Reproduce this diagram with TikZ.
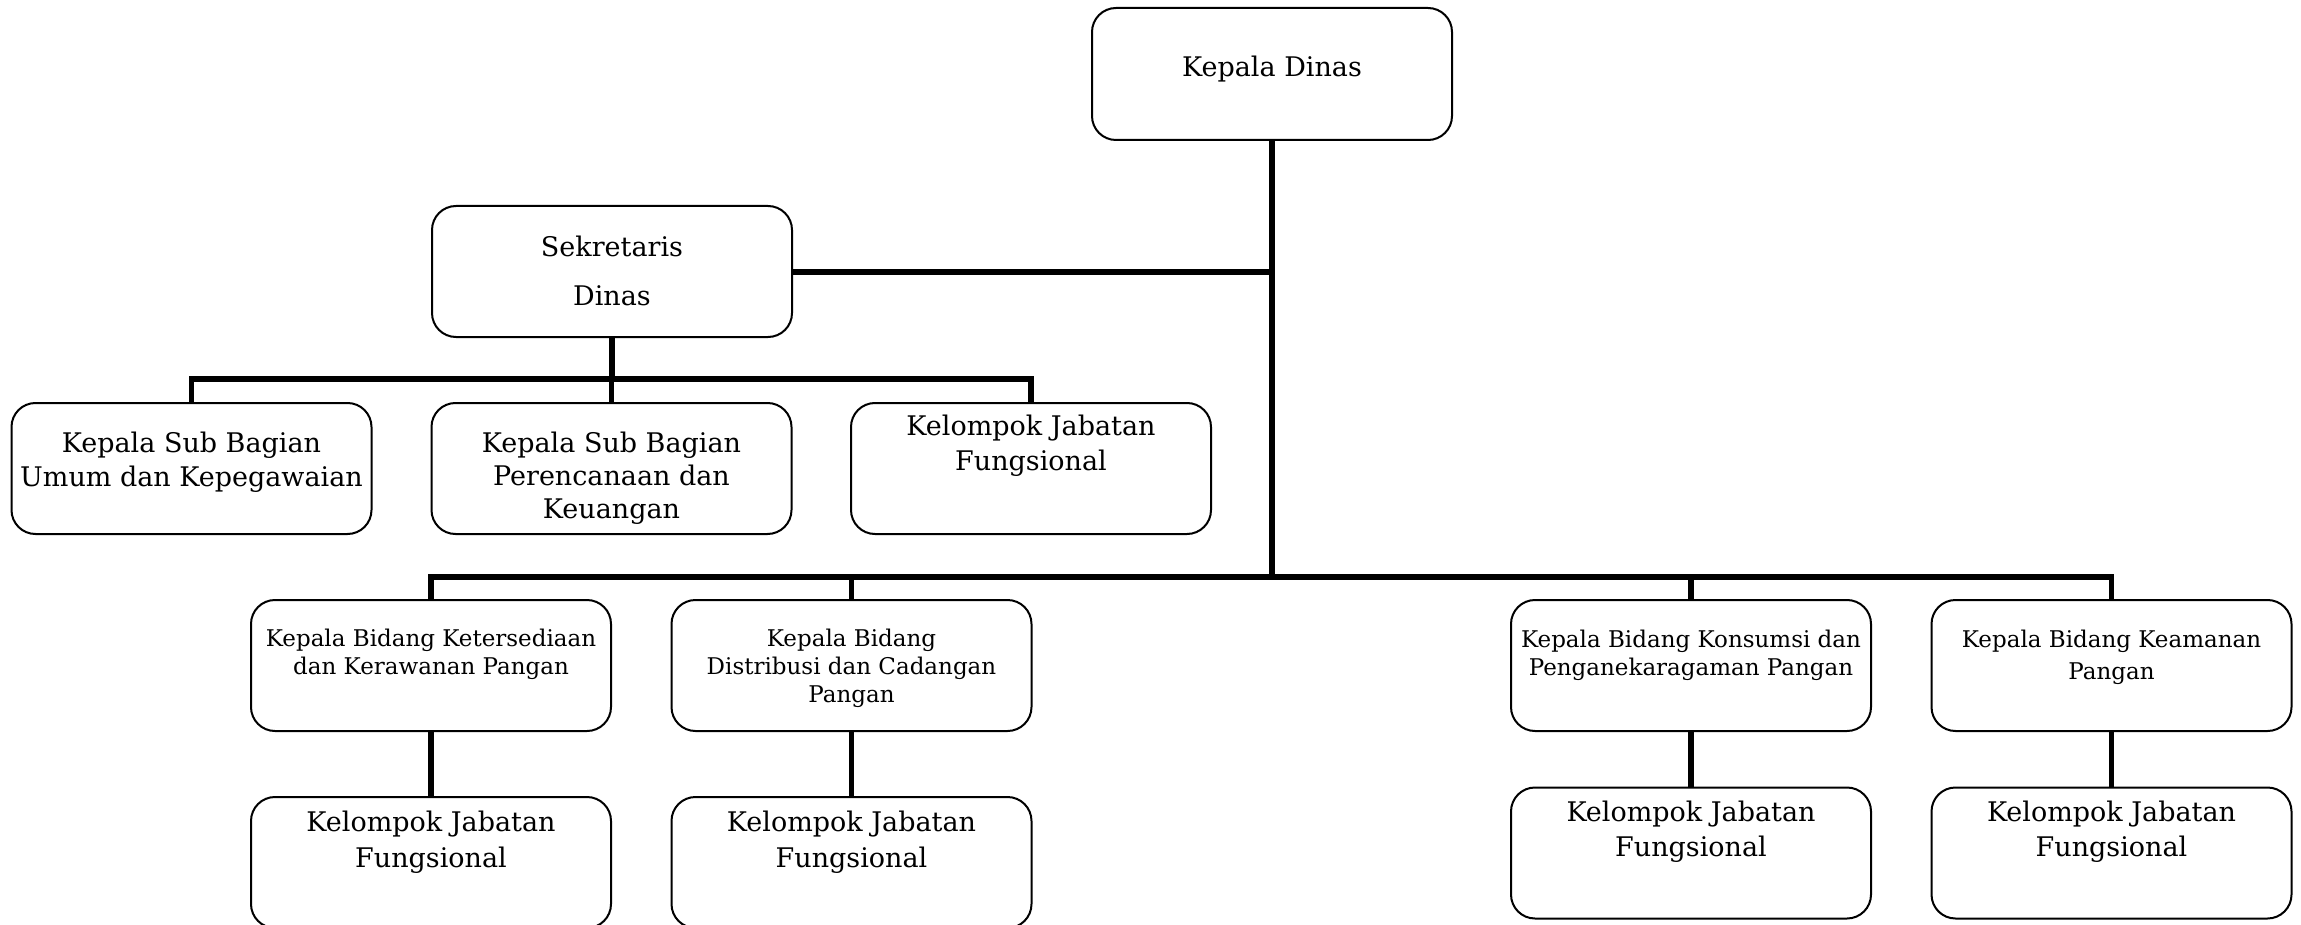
\documentclass[tikz,border=0pt]{standalone}
\usepackage{fontspec}
\setmainfont{DejaVu Serif}
\begin{document}
\begin{tikzpicture}[x=1pt,y=-1pt,
  box/.style={draw=black,line width=2pt,rounded corners=24pt,minimum width=#1,minimum height=131pt,inner sep=0pt,anchor=center},
  box/.default=360pt,
  big/.style={font=\fontsize{27}{34}\selectfont,align=center,inner sep=0pt},
  small/.style={font=\fontsize{23}{28}\selectfont,align=center,inner sep=0pt},
  conn/.style={line width=5.5pt,line join=miter,line cap=butt}]
\useasboundingbox (0,0) rectangle (2301,925);
\clip (0,0) rectangle (2301,925);
% boxes
\node[box,minimum height=132pt] (kd) at (1272,74) {};
\node[box] (sek) at (612,271.5) {};
\node[box] (r2a) at (191.5,468.5) {};
\node[box] (r2b) at (611.5,468.5) {};
\node[box] (r2c) at (1031,468.5) {};
\node[box] (r3a) at (431,665.5) {};
\node[box] (r3b) at (851.5,665.5) {};
\node[box] (r3c) at (1691,665.5) {};
\node[box] (r3d) at (2111.5,665.5) {};
\node[box] (r4a) at (431,862.5) {};
\node[box] (r4b) at (851.5,862.5) {};
\node[box] (r4c) at (1691,853) {};
\node[box] (r4d) at (2111.5,853) {};
% texts
\node[big] (kdt) at (1272,69) {Kepala Dinas};
\node[big,font=\fontsize{27}{49}\selectfont] (sekt) at (612,271) {Sekretaris\\Dinas};
\node[big] (r2at) at (191.5,462) {Kepala Sub Bagian\\Umum dan Kepegawaian};
\node[big,font=\fontsize{27}{33}\selectfont] (r2bt) at (611.5,478) {Kepala Sub Bagian\\Perencanaan dan\\Keuangan};
\node[big,font=\fontsize{27}{35}\selectfont] (r2ct) at (1031,446) {Kelompok Jabatan\\Fungsional};
\node[small] (r3at) at (431,654) {Kepala Bidang Ketersediaan\\dan Kerawanan Pangan};
\node[small] (r3bt) at (851.5,668) {Kepala Bidang\\Distribusi dan Cadangan\\Pangan};
\node[small] (r3ct) at (1691,655) {Kepala Bidang Konsumsi dan\\Penganekaragaman Pangan};
\node[small,font=\fontsize{23}{32}\selectfont] (r3dt) at (2111.5,657) {Kepala Bidang Keamanan\\Pangan};
\node[big,font=\fontsize{27}{36}\selectfont] (r4at) at (431,842) {Kelompok Jabatan\\Fungsional};
\node[big,font=\fontsize{27}{36}\selectfont] (r4bt) at (851.5,842) {Kelompok Jabatan\\Fungsional};
\node[big,font=\fontsize{27}{35}\selectfont] (r4ct) at (1691,832) {Kelompok Jabatan\\Fungsional};
\node[big,font=\fontsize{27}{35}\selectfont] (r4dt) at (2111.5,832) {Kelompok Jabatan\\Fungsional};
% bus levels
\coordinate (b1) at (0,272);
\coordinate (b2) at (0,379);
\coordinate (b3) at (0,577);
% connectors
\draw[conn] (kd.south) -- (kd.south |- b3);
\draw[conn] (sek.east |- b1) -- (kd.south |- b1);
\draw[conn] (sek.south) -- (sek.south |- b2);
\draw[conn] (r2a.north) -- (r2a.north |- b2) -- (r2c.north |- b2) -- (r2c.north);
\draw[conn] (r2b.north) -- (r2b.north |- b2);
\draw[conn] (r3a.north) -- (r3a.north |- b3) -- (r3d.north |- b3) -- (r3d.north);
\draw[conn] (r3b.north) -- (r3b.north |- b3);
\draw[conn] (r3c.north) -- (r3c.north |- b3);
\draw[conn] (r3a.south) -- (r4a.north);
\draw[conn] (r3b.south) -- (r4b.north);
\draw[conn] (r3c.south) -- (r4c.north);
\draw[conn] (r3d.south) -- (r4d.north);
\end{tikzpicture}
\end{document}
